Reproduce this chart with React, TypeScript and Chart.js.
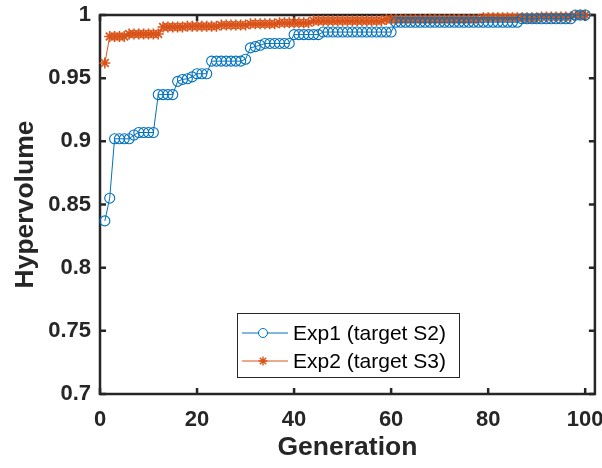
import React, { useEffect, useRef } from "react";
import { Chart, registerables } from "chart.js";

Chart.register(...registerables);

// ---------- data ----------
const generations = Array.from({ length: 100 }, (_, i) => i + 1);

const exp1Values = [
  0.837, 0.855, 0.902, 0.902, 0.902, 0.902, 0.905, 0.907, 0.907, 0.907,
  0.907, 0.937, 0.937, 0.937, 0.937, 0.9475, 0.949, 0.9495, 0.951, 0.9535,
  0.9535, 0.9535, 0.9635, 0.9635, 0.9635, 0.9635, 0.9635, 0.9635, 0.9635, 0.965,
  0.974, 0.975, 0.976, 0.9775, 0.9775, 0.9775, 0.9775, 0.9775, 0.9775, 0.9845,
  0.9845, 0.9845, 0.9845, 0.9845, 0.9845, 0.9865, 0.9865, 0.9865, 0.9865, 0.9865,
  0.9865, 0.9865, 0.9865, 0.9865, 0.9865, 0.9865, 0.9865, 0.9865, 0.9865, 0.9865,
  0.9943, 0.9943, 0.9943, 0.9943, 0.9943, 0.9943, 0.9943, 0.9943, 0.9943, 0.9943,
  0.9943, 0.9943, 0.9943, 0.9943, 0.9943, 0.9943, 0.9943, 0.9943, 0.9943, 0.9943,
  0.9943, 0.9943, 0.9943, 0.9943, 0.9943, 0.9943, 0.997, 0.997, 0.997, 0.997,
  0.997, 0.997, 0.997, 0.997, 0.997, 0.997, 0.997, 1.0, 1.0, 1.0,
];

const exp2Values = [
  0.962, 0.983, 0.983, 0.983, 0.983, 0.985, 0.985, 0.985, 0.985, 0.985,
  0.985, 0.985, 0.9905, 0.9905, 0.9905, 0.9905, 0.9905, 0.991, 0.991, 0.991,
  0.991, 0.991, 0.991, 0.991, 0.992, 0.992, 0.992, 0.992, 0.992, 0.992,
  0.993, 0.993, 0.993, 0.993, 0.993, 0.993, 0.9938, 0.9938, 0.9938, 0.9938,
  0.9938, 0.9938, 0.9938, 0.9955, 0.9955, 0.9955, 0.9955, 0.9955, 0.9955, 0.9955,
  0.9955, 0.9955, 0.9955, 0.9955, 0.9955, 0.9955, 0.9955, 0.9955, 0.9965, 0.9965,
  0.9965, 0.9965, 0.9965, 0.9965, 0.9965, 0.9965, 0.9965, 0.9965, 0.9965, 0.9965,
  0.9965, 0.9965, 0.9965, 0.9965, 0.9965, 0.9965, 0.9965, 0.9965, 0.9978, 0.9978,
  0.9978, 0.9978, 0.9978, 0.9978, 0.9978, 0.9978, 0.9978, 0.9978, 0.9978, 0.9978,
  0.9985, 0.9985, 0.9985, 0.9985, 0.9985, 0.9985, 0.9985, 0.9995, 1.0, 1.0,
];

const seriesNames = ["Exp1 (target S2)", "Exp2 (target S3)"];
const seriesColors = ["#0072BD", "#D95319"];
const seriesMarkers = ["circle", "star"];

const xTicks = [0, 20, 40, 60, 80, 100];
const xTickLabels = ["0", "20", "40", "60", "80", "100"];
const yTicks = [0.7, 0.75, 0.8, 0.85, 0.9, 0.95, 1];
const yTickLabels = ["0.7", "0.75", "0.8", "0.85", "0.9", "0.95", "1"];

const xTitle = "Generation";
const yTitle = "Hypervolume";

// ---------- styling ----------
const FONT = "'Liberation Sans', Arial, Helvetica, sans-serif";
const AXIS_COLOR = "#262626";

function drawMarker(ctx: CanvasRenderingContext2D, style: string, x: number, y: number, r: number) {
  ctx.beginPath();
  if (style === "circle") {
    ctx.arc(x, y, r, 0, Math.PI * 2);
  } else {
    ctx.moveTo(x - r, y);
    ctx.lineTo(x + r, y);
    ctx.moveTo(x, y - r);
    ctx.lineTo(x, y + r);
    const d = r * Math.SQRT1_2;
    ctx.moveTo(x - d, y - d);
    ctx.lineTo(x + d, y + d);
    ctx.moveTo(x - d, y + d);
    ctx.lineTo(x + d, y - d);
  }
  ctx.stroke();
}

const axesBoxPlugin = {
  id: "axesBox",
  beforeDatasetsDraw(chart: any) {
    const { ctx, chartArea, scales } = chart;
    const { left, right, top, bottom } = chartArea;
    const tl = 6;
    ctx.save();
    ctx.strokeStyle = AXIS_COLOR;
    ctx.lineWidth = 2.5;
    ctx.strokeRect(left, top, right - left, bottom - top);
    ctx.beginPath();
    xTicks.forEach((v) => {
      const px = scales.x.getPixelForValue(v);
      ctx.moveTo(px, bottom);
      ctx.lineTo(px, bottom - tl);
      ctx.moveTo(px, top);
      ctx.lineTo(px, top + tl);
    });
    yTicks.forEach((v) => {
      const py = scales.y.getPixelForValue(v);
      ctx.moveTo(left, py);
      ctx.lineTo(left + tl, py);
      ctx.moveTo(right, py);
      ctx.lineTo(right - tl, py);
    });
    ctx.stroke();
    ctx.restore();
  },
};

const legendPlugin = {
  id: "matLegend",
  afterDraw(chart: any) {
    const { ctx } = chart;
    const bx = 237.5, by = 313.5, bw = 222, bh = 64;
    ctx.save();
    ctx.fillStyle = "#ffffff";
    ctx.fillRect(bx, by, bw, bh);
    ctx.strokeStyle = AXIS_COLOR;
    ctx.lineWidth = 1;
    ctx.strokeRect(bx, by, bw, bh);
    const rows = [333, 361];
    seriesNames.forEach((name, i) => {
      const yy = rows[i];
      ctx.strokeStyle = seriesColors[i];
      ctx.lineWidth = 1;
      ctx.beginPath();
      ctx.moveTo(242, yy);
      ctx.lineTo(288, yy);
      ctx.stroke();
      ctx.fillStyle = "#ffffff";
      if (seriesMarkers[i] === "circle") {
        ctx.beginPath();
        ctx.arc(263, yy, 4, 0, Math.PI * 2);
        ctx.fill();
      }
      ctx.lineWidth = seriesMarkers[i] === "star" ? 1.4 : 1;
      drawMarker(ctx, seriesMarkers[i], 263, yy, 4.5);
      ctx.fillStyle = "#000000";
      ctx.font = `21px ${FONT}`;
      ctx.textAlign = "left";
      ctx.textBaseline = "middle";
      ctx.fillText(name, 293, yy + 1);
    });
    ctx.restore();
  },
};

export default function App() {
  const canvasRef = useRef<HTMLCanvasElement | null>(null);

  useEffect(() => {
    if (!canvasRef.current) return;
    const makePts = (vals: number[]) => generations.map((g, i) => ({ x: g, y: vals[i] }));
    const chart = new Chart(canvasRef.current, {
      type: "line",
      data: {
        datasets: [exp1Values, exp2Values].map((vals, i) => ({
          label: seriesNames[i],
          data: makePts(vals),
          borderColor: seriesColors[i],
          backgroundColor: seriesColors[i],
          borderWidth: 1,
          pointStyle: seriesMarkers[i] as any,
          pointRadius: i === 0 ? 5 : 5.5,
          pointBorderWidth: i === 0 ? 1.1 : 1.6,
          pointBorderColor: seriesColors[i],
          pointBackgroundColor: "rgba(255,255,255,0)",
          tension: 0,
          fill: false,
          clip: false as any,
        })),
      },
      plugins: [axesBoxPlugin, legendPlugin],
      options: {
        animation: false,
        responsive: false,
        maintainAspectRatio: false,
        devicePixelRatio: 1,
        layout: { padding: { top: 15, right: 5, left: 0, bottom: 0 } },
        plugins: {
          legend: { display: false },
          tooltip: { enabled: false },
        },
        scales: {
          x: {
            type: "linear",
            min: 0,
            max: 102,
            afterBuildTicks: (s: any) => {
              s.ticks = xTicks.map((v) => ({ value: v }));
            },
            afterFit: (s: any) => {
              s.height = 74;
              s.paddingLeft = 0;
              s.paddingRight = 0;
            },
            grid: { display: false, drawTicks: false },
            border: { display: false },
            ticks: {
              padding: 13,
              color: AXIS_COLOR,
              font: { family: FONT, size: 22, weight: "bold" },
              maxRotation: 0,
              autoSkip: false,
              callback: (v: any) => {
                const idx = xTicks.findIndex((t) => Math.abs(t - v) < 1e-9);
                return idx >= 0 ? xTickLabels[idx] : "";
              },
            },
            title: {
              display: true,
              text: xTitle,
              color: AXIS_COLOR,
              font: { family: FONT, size: 26.5, weight: "bold" },
              padding: { top: 0, bottom: 4 },
            },
          },
          y: {
            type: "linear",
            min: 0.7,
            max: 1,
            afterBuildTicks: (s: any) => {
              s.ticks = yTicks.map((v) => ({ value: v }));
            },
            afterFit: (s: any) => {
              s.width = 100;
              s.paddingTop = 0;
              s.paddingBottom = 0;
            },
            grid: { display: false, drawTicks: false },
            border: { display: false },
            ticks: {
              padding: 9,
              color: AXIS_COLOR,
              font: { family: FONT, size: 22, weight: "bold" },
              autoSkip: false,
              callback: (v: any) => {
                const idx = yTicks.findIndex((t) => Math.abs(t - v) < 1e-9);
                return idx >= 0 ? yTickLabels[idx] : "";
              },
            },
            title: {
              display: true,
              text: yTitle,
              color: AXIS_COLOR,
              font: { family: FONT, size: 26.5, weight: "bold" },
              padding: { top: 10, bottom: 0 },
            },
          },
        },
      },
    } as any);
    return () => chart.destroy();
  }, []);

  return (
    <div style={{ position: "absolute", left: 0, top: 0, width: 602, height: 468, background: "#ffffff" }}>
      <canvas ref={canvasRef} width={602} height={468} style={{ display: "block" }} />
    </div>
  );
}
